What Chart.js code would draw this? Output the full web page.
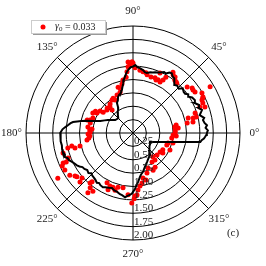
<!DOCTYPE html>
<html>
<head>
<meta charset="utf-8">
<script src="https://cdn.jsdelivr.net/npm/chart.js@4.4.1/dist/chart.umd.min.js"></script>
<style>
  html, body { margin: 0; padding: 0; background: #fff; }
  #wrap { width: 266px; height: 266px; }
</style>
</head>
<body>
<div id="wrap"><canvas id="chart"></canvas></div>
<script>
// polar axes
const angleTicks = [0, 45, 90, 135, 180, 225, 270, 315];
const radialTicks = [0.25, 0.5, 0.75, 1.0, 1.25, 1.5, 1.75, 2.0];
const radialLabels = ['0.25', '0.50', '0.75', '1.00', '1.25', '1.50', '1.75', '2.00'];
const rMax = 2.0;
const legendText = ['\u03b3', '0', ' = 0.033'];
const panelLabel = '(c)';

// black curve: angle (deg) and radius
const lineTheta = [0, 2, 4, 6, 8, 10.5, 12, 15, 17, 18.5, 21, 23, 26, 28, 31, 33, 35, 37, 39, 42,
  44, 47, 49, 51, 53, 55, 57, 59, 61, 63, 66, 68, 70, 72, 74, 77, 79, 81, 84, 86,
  88, 90, 92, 94.5, 96, 98, 99.5, 101, 103, 104.5, 106, 108, 110, 112.5, 115, 118, 120, 123, 126, 130,
  135, 140, 144, 148, 152.5, 156, 160, 163, 165, 167, 169.6, 171, 173, 175, 177, 180, 182, 184, 186.5, 190,
  193, 195, 197, 199.4, 201, 203, 205.4, 208, 210, 212, 214, 216.5, 219, 222, 224, 226, 229, 231, 234, 236,
  238, 241, 243, 246, 249, 252, 255, 258, 260, 263, 265, 267, 269, 270, 272, 274, 276, 279, 281, 284.4,
  288, 292, 296, 302, 308, 312, 317, 322, 327, 332, 336, 338.5, 341.6, 344, 346, 348, 349.5, 351, 352.4, 354,
  355.5, 357, 358.5, 360];
const lineR = [1.38, 1.40, 1.36, 1.39, 1.35, 1.33, 1.36, 1.29, 1.33, 1.36, 1.31, 1.34, 1.28, 1.31, 1.29, 1.24, 1.26, 1.22, 1.22, 1.25,
  1.19, 1.21, 1.19, 1.23, 1.28, 1.29, 1.33, 1.32, 1.27, 1.28, 1.24, 1.22, 1.21, 1.19, 1.18, 1.15, 1.16, 1.19, 1.22, 1.23,
  1.27, 1.24, 1.23, 1.18, 1.14, 1.07, 1.02, 0.95, 0.88, 0.83, 0.80, 0.77, 0.76, 0.73, 0.67, 0.64, 0.56, 0.51, 0.49, 0.44,
  0.39, 0.40, 0.41, 0.46, 0.53, 0.58, 0.65, 0.77, 0.89, 0.99, 1.14, 1.18, 1.22, 1.27, 1.32, 1.36, 1.36, 1.35, 1.36, 1.35,
  1.36, 1.36, 1.34, 1.35, 1.31, 1.30, 1.26, 1.23, 1.21, 1.18, 1.14, 1.13, 1.10, 1.12, 1.08, 1.10, 1.11, 1.12, 1.15, 1.13,
  1.15, 1.16, 1.14, 1.12, 1.10, 1.13, 1.14, 1.17, 1.18, 1.21, 1.18, 1.16, 1.13, 1.10, 1.05, 0.97, 0.92, 0.83, 0.79, 0.75,
  0.69, 0.64, 0.60, 0.55, 0.52, 0.45, 0.41, 0.40, 0.38, 0.36, 0.41, 0.46, 0.53, 0.61, 0.70, 0.81, 0.92, 1.08, 1.27, 1.29,
  1.33, 1.35, 1.37, 1.38];

// red measured points: angle (deg) and radius
const pointTheta = [94, 92.5, 94.3, 95.6, 97, 100.7, 102.7, 106, 107.6, 112.8, 118.6, 122.5, 128.4, 131.5, 132.4, 138.5, 145, 146.3, 151, 153.4,
  150, 159.4, 163.2, 164.2, 166.9, 172.4, 176, 178.7, 108, 119.7, 136,
  184, 188.7, 181.3, 174.4, 186.5, 192, 194.5, 193.8, 193, 196, 203.2, 205, 208.5, 211, 213.7, 216.6, 221.4, 229.3, 233,
  235.4, 230, 232, 242.5, 246.5, 252.5, 259.7, 265.4, 269, 254.5, 201, 203.4, 218, 222.8, 246.3, 249.7, 273.7, 271,
  271.8, 275, 277.5, 280.2, 282.5, 285.5, 289.3, 293.2, 298.4, 303.2, 302.9, 309.2, 309.8, 317.5, 324.9, 330.5, 326.3, 340.6, 335.3, 344,
  352.7, 346, 356, 357, 4, 8.1, 6.3, 10.5, 1.4,
  10.5, 15.3, 10.4, 14, 14.3, 17.9, 21.2, 23.2, 25.6, 26.6, 19.9, 27.2, 30.1, 30.9, 33.5, 37.3, 40.4, 35.6, 48.7, 51.6,
  49.9, 53.1, 56.7, 55.4, 59.5, 62.1, 60.5, 64.7, 66.5, 68.2, 72.2, 76.4, 77.8, 80.7, 83.7, 88.2, 90, 90.8, 65.8];
const pointR = [1.33, 1.29, 1.24, 1.15, 1.05, 1.01, 0.94, 0.87, 0.80, 0.77, 0.70, 0.73, 0.69, 0.65, 0.58, 0.65, 0.68, 0.74, 0.77, 0.84,
  0.81, 0.80, 0.84, 0.89, 0.82, 0.85, 0.81, 0.80, 0.90, 0.75, 0.67,
  0.81, 0.87, 0.84, 0.77, 0.83, 1.17, 1.12, 1.02, 1.25, 1.36, 1.42, 1.46, 1.45, 1.64, 1.42, 1.35, 1.27, 1.23, 1.40,
  1.32, 1.19, 1.30, 1.05, 1.08, 1.12, 1.04, 1.16, 1.31, 1.05, 1.30, 1.36, 1.33, 1.35, 1.16, 1.08, 1.16, 1.23,
  1.18, 1.07, 1.00, 0.95, 0.86, 0.91, 0.79, 0.71, 0.79, 0.65, 0.76, 0.65, 0.58, 0.61, 0.62, 0.64, 0.67, 0.67, 0.76, 0.68,
  0.73, 0.77, 0.81, 0.75, 0.79, 0.79, 0.85, 0.82, 0.79,
  1.03, 1.07, 1.14, 1.16, 1.22, 1.22, 1.34, 1.42, 1.43, 1.46, 1.43, 1.47, 1.49, 1.68, 1.39, 1.39, 1.33, 1.38, 1.24, 1.26,
  1.25, 1.31, 1.36, 1.32, 1.21, 1.08, 1.14, 1.10, 1.08, 1.11, 1.10, 1.12, 1.15, 1.16, 1.18, 1.22, 1.31, 1.33, 1.23];

const serif = '"Liberation Serif", "DejaVu Serif", serif';

function toXY(theta, r) {
  const a = theta * Math.PI / 180;
  return { x: r * Math.cos(a), y: r * Math.sin(a) };
}

const polarGrid = {
  id: 'polarGrid',
  beforeDatasetsDraw(chart) {
    const { ctx, scales: { x, y } } = chart;
    const cx = x.getPixelForValue(0), cy = y.getPixelForValue(0);
    const unit = x.getPixelForValue(1) - cx;
    ctx.save();
    ctx.strokeStyle = '#000';
    ctx.lineWidth = 1;
    radialTicks.forEach(r => {
      ctx.beginPath();
      ctx.arc(cx, cy, r * unit, 0, Math.PI * 2);
      ctx.stroke();
    });
    angleTicks.forEach(a => {
      const p = toXY(a, rMax);
      ctx.beginPath();
      ctx.moveTo(cx, cy);
      ctx.lineTo(x.getPixelForValue(p.x), y.getPixelForValue(p.y));
      ctx.stroke();
    });
    ctx.restore();
  },
  afterDatasetsDraw(chart) {
    const { ctx, scales: { x, y } } = chart;
    const cx = x.getPixelForValue(0), cy = y.getPixelForValue(0);
    const unit = x.getPixelForValue(1) - cx;
    ctx.save();
    ctx.fillStyle = '#222';
    ctx.font = '11px ' + serif;
    ctx.textAlign = 'center';
    ctx.textBaseline = 'middle';
    angleTicks.forEach(a => {
      const p = toXY(a, rMax + 0.27);
      ctx.fillText(a + '\u00b0', x.getPixelForValue(p.x), y.getPixelForValue(p.y));
    });
    // radial labels along 270 deg
    ctx.textAlign = 'left';
    ctx.textBaseline = 'alphabetic';
    radialTicks.forEach((r, i) => {
      ctx.fillText(radialLabels[i], cx + 1, cy + r * unit - 2);
    });
    ctx.textAlign = 'center';
    ctx.textBaseline = 'middle';
    ctx.fillText(panelLabel, 233, 233);

    // legend box
    const bx = 31, by = 20, bw = 74, bh = 13;
    ctx.fillStyle = '#999';
    ctx.fillRect(bx + 2, by + 2, bw, bh);
    ctx.fillStyle = '#fff';
    ctx.fillRect(bx, by, bw, bh);
    ctx.strokeStyle = '#ccc';
    ctx.lineWidth = 1;
    ctx.strokeRect(bx + 0.5, by + 0.5, bw, bh);
    ctx.fillStyle = '#ff0000';
    ctx.beginPath();
    ctx.arc(43, 27, 2.5, 0, Math.PI * 2);
    ctx.fill();
    ctx.fillStyle = '#222';
    ctx.textAlign = 'left';
    ctx.font = 'italic 10px ' + serif;
    ctx.fillText(legendText[0], 55, 26);
    let tx = 55 + ctx.measureText(legendText[0]).width;
    ctx.font = '7px ' + serif;
    ctx.fillText(legendText[1], tx, 29);
    tx += ctx.measureText(legendText[1]).width;
    ctx.font = '10px ' + serif;
    ctx.fillText(legendText[2], tx, 27);
    ctx.restore();
  }
};

const linePts = lineTheta.map((t, i) => toXY(t, lineR[i]));
const redPts = pointTheta.map((t, i) => toXY(t, pointR[i]));

new Chart(document.getElementById('chart'), {
  type: 'scatter',
  data: {
    datasets: [
      {
        label: 'model',
        data: linePts,
        showLine: true,
        borderColor: '#000',
        borderWidth: 2,
        pointRadius: 0,
        tension: 0,
        order: 0
      },
      {
        label: 'points',
        data: redPts,
        backgroundColor: '#ff0000',
        borderWidth: 0,
        pointRadius: 2.5,
        order: 1
      }
    ]
  },
  options: {
    responsive: true,
    maintainAspectRatio: false,
    animation: false,
    layout: { padding: 26 },
    scales: {
      x: { type: 'linear', min: -rMax, max: rMax, display: false },
      y: { type: 'linear', min: -rMax, max: rMax, display: false }
    },
    plugins: {
      legend: { display: false },
      tooltip: { enabled: false }
    }
  },
  plugins: [polarGrid]
});
</script>
</body>
</html>
